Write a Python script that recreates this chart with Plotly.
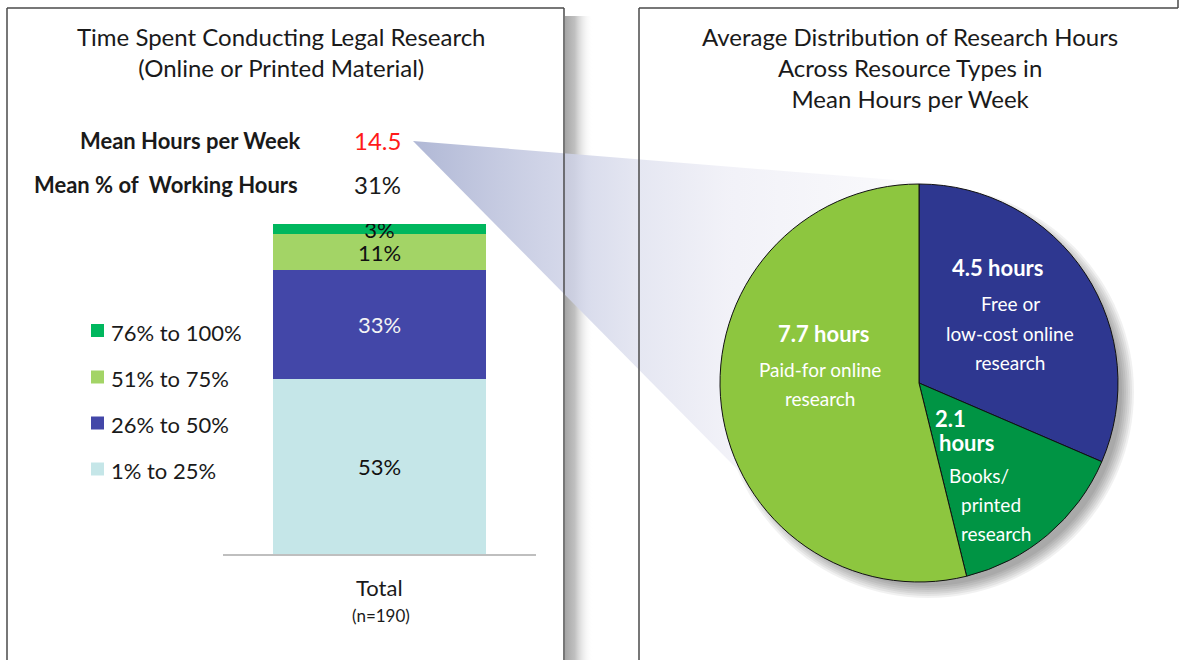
import plotly.graph_objects as go

W, H = 1183, 660

# ---------------- data ----------------
bar_category = ["Total"]
bar_sample = "(n=190)"
bar_series = ["1% to 25%", "26% to 50%", "51% to 75%", "76% to 100%"]
bar_values = [53, 33, 11, 3]
bar_colors = ["#C5E6E8", "#4347A8", "#A3D466", "#00B75E"]
bar_text_colors = ["#111111", "#f4f4f4", "#111111", "#111111"]

mean_hours_per_week = 14.5
mean_pct_working_hours = 31

pie_labels = ["Free or low-cost online research", "Books/ printed research", "Paid-for online research"]
pie_values = [4.5, 2.1, 7.7]
pie_colors = ["#2E3790", "#009444", "#8DC63F"]
pie_desc_lines = [["Free or", "low-cost online", "research"],
                  ["Books/", "printed", "research"],
                  ["Paid-for online", "research"]]

left_title = "Time Spent Conducting Legal Research<br>(Online or Printed Material)"
right_title = "Average Distribution of Research Hours<br>Across Resource Types in<br>Mean Hours per Week"

# ---------------- helpers (pixel -> paper) ----------------
def fx(x):
    return x / W

def fy(y):
    return 1 - y / H

FONT = "Lato"
DARK = "#1a1a1a"

fig = go.Figure()

# stacked bar (xaxis / yaxis)
for name, val, col, tcol in zip(bar_series, bar_values, bar_colors, bar_text_colors):
    fig.add_trace(go.Bar(
        x=bar_category, y=[val], name=name,
        marker=dict(color=col, line=dict(width=0)),
        text=[f"{val}%"], textposition="inside", insidetextanchor="middle",
        constraintext="none", textangle=0,
        textfont=dict(family=FONT, size=22, color=tcol),
        width=0.683, showlegend=False, hoverinfo="name+y",
        xaxis="x", yaxis="y",
    ))

# decorative overlay in pixel coordinates (xaxis2 / yaxis2)
# panel shadow
fig.add_trace(go.Scatter(
    x=[565, 593, 593, 565, 565], y=[16, 16, 700, 700, 16],
    mode="lines", line=dict(width=0), fill="toself",
    fillgradient=dict(type="horizontal",
                      colorscale=[[0, "rgba(165,165,165,1)"], [0.35, "rgba(185,185,185,0.9)"],
                                  [1, "rgba(255,255,255,0)"]]),
    hoverinfo="skip", showlegend=False, xaxis="x2", yaxis="y2",
))
# connector wedge
fig.add_trace(go.Scatter(
    x=[413, 920, 920, 738, 413], y=[141, 182, 383, 470, 141],
    mode="lines", line=dict(width=0), fill="toself",
    fillgradient=dict(type="horizontal",
                      colorscale=[[0, "rgba(172,180,211,0.95)"], [0.3, "rgba(205,209,230,0.85)"],
                                  [0.45, "rgba(225,227,240,0.85)"], [0.62, "rgba(240,240,247,0.9)"],
                                  [1, "rgba(250,250,252,0.9)"]]),
    hoverinfo="skip", showlegend=False, xaxis="x2", yaxis="y2",
))

# pie
fig.add_trace(go.Pie(
    labels=pie_labels, values=pie_values, sort=False, direction="clockwise", rotation=0,
    marker=dict(colors=pie_colors, line=dict(color="#111111", width=1)),
    textinfo="none", showlegend=False, hoverinfo="label+value",
    domain=dict(x=[fx(720), fx(1118)], y=[fy(582), fy(184)]),
))

shapes = []
# pie shadow (soft, offset to lower right)
for k in range(7):
    r = 194 + k * 2
    cx, cy = 928, 392
    shapes.append(dict(type="circle", xref="paper", yref="paper",
                       x0=fx(cx - r), x1=fx(cx + r), y0=fy(cy + r), y1=fy(cy - r),
                       fillcolor="rgba(0,0,0,0.055)", line=dict(width=0), layer="below"))

border = dict(color="#4a4a4a", width=1.5)
shapes += [
    # left panel
    dict(type="line", xref="paper", yref="paper", x0=fx(7), x1=fx(7), y0=fy(8), y1=fy(700), line=border, layer="above"),
    dict(type="line", xref="paper", yref="paper", x0=fx(7), x1=fx(564), y0=fy(8), y1=fy(8), line=border, layer="above"),
    dict(type="line", xref="paper", yref="paper", x0=fx(564), x1=fx(564), y0=fy(8), y1=fy(700), line=border, layer="above"),
    # right panel
    dict(type="line", xref="paper", yref="paper", x0=fx(639), x1=fx(639), y0=fy(8), y1=fy(700), line=border, layer="above"),
    dict(type="line", xref="paper", yref="paper", x0=fx(639), x1=fx(1178), y0=fy(8), y1=fy(8), line=border, layer="above"),
    dict(type="line", xref="paper", yref="paper", x0=fx(1178), x1=fx(1178), y0=fy(0), y1=fy(8), line=border, layer="above"),
]

# manual legend (top entry = top segment)
legend_y = [469, 423, 377, 330.5]
for name, col, ly in zip(bar_series, bar_colors, legend_y):
    shapes.append(dict(type="rect", xref="paper", yref="paper",
                       x0=fx(91), x1=fx(104), y0=fy(ly + 6.5), y1=fy(ly - 6.5),
                       fillcolor=col, line=dict(width=0)))

annotations = []
def ann(text, x, y, size, color=DARK, xanchor="center", bold=False, family=FONT, **kw):
    t = f"<b>{text}</b>" if bold else text
    annotations.append(dict(text=t, x=fx(x), y=fy(y), xref="paper", yref="paper",
                            xanchor=xanchor, yanchor="middle", showarrow=False,
                            font=dict(family=family, size=size, color=color), **kw))

for name, ly in zip(bar_series, legend_y):
    ann(name, 109, ly + 1.5, 22, xanchor="left")

ann(left_title, 281, 52, 24)
ann(right_title, 910, 67, 24)

ann("Mean Hours per Week", 302, 140, 22, xanchor="right", bold=True)
ann(f"{mean_hours_per_week}", 352, 140, 24, color="#FF1A1A", xanchor="left")
ann("Mean % of\u00a0 Working Hours", 300, 185, 22, xanchor="right", bold=True)
ann(f"{mean_pct_working_hours}%", 352, 185, 24, xanchor="left")

# category label
annotations.append(dict(text=bar_category[0], x=bar_category[0], xref="x", y=fy(587), yref="paper",
                        xanchor="center", yanchor="middle", showarrow=False,
                        font=dict(family=FONT, size=22, color=DARK)))
ann(bar_sample, 381, 615, 17)

# pie labels
WHITE = "#ffffff"
ann(f"{pie_values[0]} hours", 997, 267, 22, color=WHITE, bold=True)
for line, (x, y) in zip(pie_desc_lines[0], [(1010, 303), (1010, 333), (1010, 362)]):
    ann(line, x, y, 19, color=WHITE)
ann(f"{pie_values[1]}", 933, 418, 22, color=WHITE, bold=True, xanchor="left")
ann("hours", 937, 442, 22, color=WHITE, bold=True, xanchor="left")
for line, (x, y) in zip(pie_desc_lines[1], [(979, 475), (991, 504), (996, 533)]):
    ann(line, x, y, 19, color=WHITE)
ann(f"{pie_values[2]} hours", 823, 333, 22, color=WHITE, bold=True)
for line, (x, y) in zip(pie_desc_lines[2], [(820, 370), (820, 399)]):
    ann(line, x, y, 19, color=WHITE)

fig.update_layout(
    width=W, height=H, margin=dict(l=0, r=0, t=0, b=0),
    paper_bgcolor="white", plot_bgcolor="rgba(0,0,0,0)",
    barmode="stack", bargap=0,
    xaxis=dict(domain=[fx(223), fx(536)], range=[-0.5, 0.5], showline=True, linecolor="#BFBFBF",
               linewidth=2, showticklabels=False, showgrid=False, zeroline=False, ticks="",
               fixedrange=True),
    yaxis=dict(domain=[fy(554), fy(224)], range=[0, 100], visible=False, fixedrange=True),
    xaxis2=dict(domain=[0, 1], range=[0, W], visible=False, fixedrange=True, anchor="y2"),
    yaxis2=dict(domain=[0, 1], range=[H, 0], visible=False, fixedrange=True, anchor="x2"),
    shapes=shapes, annotations=annotations,
    hovermode="closest",
)

fig.write_html(
    "out.html",
    config={"displayModeBar": False},
    post_script="document.body.style.margin='0';document.body.style.overflow='hidden';",
)
